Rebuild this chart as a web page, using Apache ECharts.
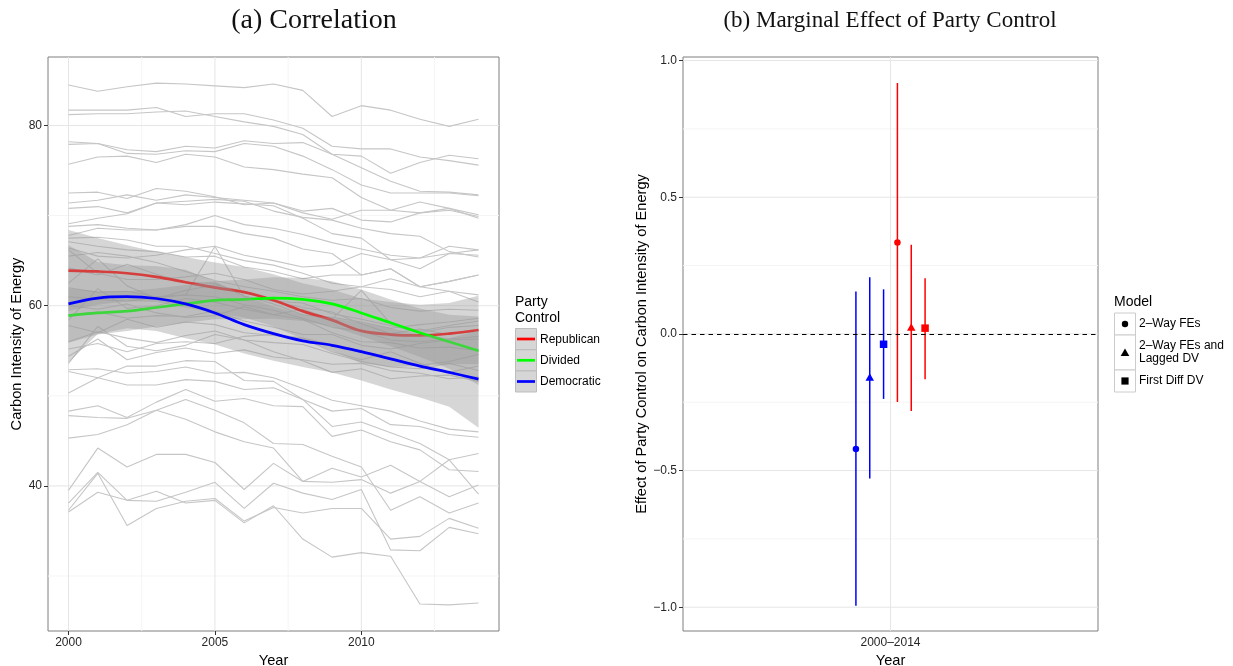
<!DOCTYPE html>
<html>
<head>
<meta charset="utf-8">
<script src="https://cdn.jsdelivr.net/npm/echarts@6/dist/echarts.min.js"></script>
<style>
  html, body { margin: 0; padding: 0; background: #ffffff; }
  #chart { width: 1233px; height: 666px; }
</style>
</head>
<body>
<div id="chart"></div>
<script>
// ---- Panel (a): carbon intensity of energy by state, 2000–2014 ----
const years = [2000, 2001, 2002, 2003, 2004, 2005, 2006, 2007, 2008, 2009, 2010, 2011, 2012, 2013, 2014];

// one row per state
const stateIntensity = [
  [84.5, 83.8, 84.3, 84.7, 84.6, 84.4, 84.2, 84.6, 83.9, 81.0, 82.2, 81.7, 80.7, 79.9, 80.7],
  [81.7, 81.7, 81.7, 82.0, 81.0, 81.3, 81.3, 80.6, 79.7, 77.7, 77.4, 77.4, 76.5, 76.1, 75.6],
  [81.2, 81.3, 81.3, 81.5, 81.6, 81.0, 80.4, 79.9, 79.0, 76.8, 76.6, 74.7, 75.9, 76.7, 76.3],
  [78.2, 78.0, 77.3, 77.1, 77.7, 77.5, 78.3, 78.0, 78.1, 76.8, 75.3, 73.8, 72.7, 72.6, 72.3],
  [77.9, 78.0, 76.9, 76.8, 77.2, 77.1, 78.0, 77.7, 76.6, 75.1, 73.4, 72.5, 72.5, 72.5, 72.2],
  [75.7, 76.5, 76.6, 75.9, 76.8, 76.5, 75.4, 75.1, 74.6, 74.2, 72.0, 70.6, 70.3, 70.8, 70.1],
  [72.5, 72.6, 71.9, 73.0, 72.7, 72.1, 71.2, 71.4, 70.3, 69.6, 70.6, 70.6, 71.5, 70.8, 69.7],
  [71.4, 71.7, 72.3, 71.7, 72.3, 72.0, 71.7, 71.4, 70.5, 70.8, 69.5, 69.3, 70.3, 70.6, 69.9],
  [70.8, 71.0, 70.3, 71.4, 71.6, 71.8, 71.6, 70.5, 69.8, 69.5, 68.6, 68.0, 67.7, 66.0, 65.4],
  [69.1, 69.7, 70.2, 71.4, 71.2, 71.5, 71.3, 71.1, 69.7, 68.0, 67.5, 65.1, 64.1, 65.8, 65.6],
  [68.8, 69.0, 68.6, 68.4, 69.0, 70.0, 69.0, 68.6, 67.9, 67.0, 66.3, 65.6, 65.3, 66.6, 66.2],
  [67.8, 68.6, 68.4, 68.4, 68.8, 68.8, 68.0, 67.5, 66.3, 65.8, 63.4, 64.1, 62.1, 62.7, 63.4],
  [67.5, 67.6, 67.3, 66.6, 66.6, 65.8, 65.0, 64.5, 63.6, 62.5, 62.1, 61.8, 61.0, 61.6, 61.2],
  [67.1, 66.6, 66.2, 66.0, 65.4, 65.5, 64.3, 63.8, 63.0, 63.4, 63.4, 64.1, 62.1, 62.7, 63.4],
  [66.4, 65.5, 65.3, 65.6, 66.2, 66.6, 65.6, 65.0, 64.3, 64.5, 65.8, 65.1, 65.3, 65.8, 66.2],
  [66.2, 63.6, 62.9, 62.9, 63.2, 63.6, 62.9, 61.8, 61.3, 61.6, 62.1, 63.0, 62.1, 61.6, 60.4],
  [65.5, 65.9, 65.5, 64.8, 63.8, 62.8, 62.1, 61.6, 61.0, 60.6, 60.8, 59.8, 59.4, 59.6, 59.5],
  [64.2, 63.4, 64.6, 63.5, 62.6, 62.5, 61.1, 60.2, 59.0, 58.7, 58.2, 57.5, 57.9, 58.2, 58.6],
  [62.5, 65.2, 62.2, 60.8, 61.7, 62.3, 61.6, 60.5, 59.8, 59.3, 58.0, 56.9, 57.4, 56.8, 57.2],
  [62.0, 61.5, 61.6, 61.0, 61.2, 66.6, 61.0, 60.5, 60.3, 59.1, 58.5, 57.8, 57.0, 57.6, 57.8],
  [61.0, 60.7, 60.5, 60.9, 61.2, 61.0, 60.1, 59.5, 58.6, 57.6, 57.2, 56.2, 56.0, 56.3, 56.6],
  [60.0, 59.6, 60.2, 59.2, 58.7, 58.9, 59.9, 59.0, 58.5, 57.0, 56.0, 55.9, 55.3, 55.4, 55.0],
  [59.0, 59.3, 58.6, 58.9, 58.8, 59.4, 58.3, 57.6, 56.8, 56.8, 55.6, 55.2, 55.8, 56.2, 56.3],
  [58.4, 61.9, 59.7, 60.0, 60.8, 60.4, 59.6, 59.0, 59.6, 58.5, 61.7, 58.0, 57.2, 57.8, 58.3],
  [57.8, 57.0, 58.5, 57.6, 58.2, 57.9, 57.0, 56.7, 56.4, 55.7, 55.0, 54.0, 53.4, 53.8, 54.6],
  [56.0, 57.1, 56.4, 55.9, 56.7, 57.2, 56.2, 55.9, 55.7, 54.7, 53.8, 53.2, 53.0, 53.6, 52.8],
  [55.2, 55.8, 54.9, 55.8, 56.0, 55.8, 56.6, 56.8, 56.4, 54.9, 54.0, 54.9, 53.6, 52.6, 53.3],
  [54.4, 56.3, 54.0, 54.8, 55.3, 54.7, 55.1, 54.3, 54.0, 53.5, 53.6, 52.8, 52.5, 51.9, 52.1],
  [53.6, 57.7, 55.5, 55.0, 55.6, 56.8, 56.2, 54.9, 53.9, 52.6, 53.0, 51.9, 52.2, 52.3, 51.6],
  [52.9, 53.0, 52.5, 52.7, 53.2, 52.5, 52.6, 52.0, 50.8, 49.5, 48.9, 48.3, 47.2, 46.3, 46.0],
  [52.7, 52.0, 53.3, 53.3, 53.9, 53.8, 51.7, 51.6, 49.6, 48.3, 48.6, 46.8, 46.6, 45.7, 45.4],
  [50.3, 52.0, 51.2, 51.2, 51.8, 51.6, 50.7, 50.9, 49.6, 46.6, 47.1, 45.9, 44.7, 42.9, 39.1],
  [48.3, 48.9, 47.6, 49.3, 50.7, 49.4, 49.7, 48.9, 48.8, 45.5, 46.2, 44.9, 44.0, 41.8, 41.6],
  [47.8, 47.6, 47.5, 48.4, 49.6, 48.4, 47.0, 44.7, 44.6, 43.3, 42.1, 37.3, 38.8, 37.0, 38.1],
  [45.3, 45.7, 46.8, 48.4, 47.4, 46.0, 44.9, 44.2, 40.5, 41.96, 41.0, 42.3, 40.5, 38.8, 40.1],
  [39.5, 44.2, 42.1, 43.5, 43.5, 42.6, 39.6, 42.5, 40.5, 40.4, 40.7, 39.2, 40.5, 42.9, 43.6],
  [38.1, 41.5, 38.4, 38.3, 39.3, 40.4, 37.5, 40.3, 39.2, 38.5, 39.6, 32.9, 32.8, 35.4, 34.7],
  [37.3, 41.4, 35.6, 37.5, 38.3, 38.6, 36.1, 37.6, 37.0, 37.5, 37.5, 34.1, 34.4, 36.4, 35.3],
  [37.1, 39.3, 38.4, 39.4, 38.1, 38.4, 35.9, 37.8, 34.1, 32.1, 32.6, 32.2, 26.9, 26.8, 27.0]
];

// smoothed fits by party control, with half-width of the confidence band
const partyNames = ['Republican', 'Divided', 'Democratic'];
const partyColors = ['#ff0000', '#00ff00', '#0000ff'];
const repFit = [63.9, 63.8, 63.6, 63.2, 62.6, 62.0, 61.5, 60.6, 59.4, 58.4, 57.2, 56.8, 56.7, 56.9, 57.3];
const repHalfWidth = [4.5, 3.7, 3.1, 2.8, 2.8, 2.8, 2.8, 2.9, 3.1, 3.4, 3.6, 3.6, 3.4, 3.4, 3.8];
const divFit = [58.9, 59.2, 59.4, 59.8, 60.2, 60.6, 60.7, 60.85, 60.7, 60.2, 59.2, 58.1, 57.0, 56.0, 55.0];
const divHalfWidth = [3.0, 2.4, 2.2, 2.1, 2.1, 2.1, 2.2, 2.3, 2.4, 2.5, 2.6, 2.6, 2.7, 3.0, 3.8];
const demFit = [60.2, 60.85, 61.0, 60.8, 60.2, 59.2, 57.9, 56.9, 56.1, 55.6, 54.9, 54.1, 53.3, 52.6, 51.85];
const demHalfWidth = [6.5, 4.0, 3.5, 3.6, 3.8, 3.5, 3.2, 3.0, 2.9, 3.0, 3.2, 3.4, 3.5, 3.8, 5.4];

const leftYTicks = [40, 60, 80];
const leftYMinor = [30, 50, 70];
const leftXTicks = [2000, 2005, 2010];
const leftXMinor = [2002.5, 2007.5, 2012.5];

// ---- Panel (b): marginal effect of party control ----
const periodLabel = '2000–2014';
const models = ['2–Way FEs', '2–Way FEs and\nLagged DV', 'First Diff DV'];
const modelSymbols = ['circle', 'triangle', 'rect'];
const demEstimate = [-0.421, -0.158, -0.038];
const demLower = [-0.995, -0.529, -0.238];
const demUpper = [0.155, 0.207, 0.163];
const repEstimate = [0.334, 0.025, 0.021];
const repLower = [-0.249, -0.282, -0.166];
const repUpper = [0.918, 0.326, 0.204];

const rightYTicks = [-1, -0.5, 0, 0.5, 1];
const rightYMinor = [-0.75, -0.25, 0.25, 0.75];

// ---- styling ----
const SANS = '"Liberation Sans", Arial, sans-serif';
const SERIF = '"Liberation Serif", "DejaVu Serif", serif';
const TXT = '#262626';
const MAJOR = '#e6e6e6';
const MINOR = '#f5f5f5';
const BAND = 'rgba(153,153,153,0.4)';

const LEFT = { x: 48, y: 57, w: 451, h: 574, xMin: 1999.3, xMax: 2014.7, yMin: 23.9, yMax: 87.6 };
const RIGHT = { x: 683, y: 57, w: 415, h: 574, xMin: 0.4, xMax: 1.6, yMin: -1.087, yMax: 1.013 };

// full-width / full-height rules drawn through the axis scales
function ruleSeries(gridIdx, orient, values, color, ref) {
  return {
    type: 'custom', xAxisIndex: gridIdx, yAxisIndex: gridIdx, z: 1, silent: true,
    data: values.map(v => orient === 'v' ? [v, ref] : [ref, v]),
    renderItem: function (params, api) {
      const cs = params.coordSys;
      const p = api.coord([api.value(0), api.value(1)]);
      if (orient === 'v') {
        return { type: 'line', shape: { x1: p[0], y1: cs.y, x2: p[0], y2: cs.y + cs.height },
                 style: { stroke: color, lineWidth: 1 } };
      }
      return { type: 'line', shape: { x1: cs.x, y1: p[1], x2: cs.x + cs.width, y2: p[1] },
               style: { stroke: color, lineWidth: 1 } };
    }
  };
}

function valueAxis(gridIdx, lim, ticks, fmt, extra) {
  return Object.assign({
    type: 'value', gridIndex: gridIdx, min: lim[0], max: lim[1],
    splitLine: { show: false }, axisLine: { show: false },
    axisTick: { show: true, customValues: ticks, length: 4, lineStyle: { color: '#333', width: 1 } },
    axisLabel: { customValues: ticks, formatter: fmt, color: TXT, fontSize: 12, fontFamily: SANS, margin: 6 }
  }, extra);
}

const series = [];

// grid rules, panel (a)
series.push(ruleSeries(0, 'v', leftXMinor, MINOR, 50));
series.push(ruleSeries(0, 'h', leftYMinor, MINOR, 2005));
series.push(ruleSeries(0, 'v', leftXTicks, MAJOR, 50));
series.push(ruleSeries(0, 'h', leftYTicks, MAJOR, 2005));

// state trajectories
stateIntensity.forEach(row => {
  series.push({
    type: 'line', xAxisIndex: 0, yAxisIndex: 0, silent: true, symbol: 'none', z: 2,
    lineStyle: { color: '#c6c6c6', width: 1.1 },
    data: years.map((yr, i) => [yr, row[i]])
  });
});

// confidence bands and fitted curves, one party group after another
const fits = [repFit, divFit, demFit];
const halves = [repHalfWidth, divHalfWidth, demHalfWidth];
fits.forEach((fit, g) => {
  const half = halves[g];
  series.push({
    type: 'custom', xAxisIndex: 0, yAxisIndex: 0, silent: true, z: 3 + 2 * g,
    data: [[years[0], fit[0]]],
    renderItem: function (params, api) {
      const upper = years.map((yr, i) => api.coord([yr, fit[i] + half[i]]));
      const lower = years.map((yr, i) => api.coord([yr, fit[i] - half[i]])).reverse();
      return { type: 'polygon', shape: { points: upper.concat(lower) }, style: { fill: BAND } };
    }
  });
  series.push({
    type: 'line', xAxisIndex: 0, yAxisIndex: 0, silent: true, symbol: 'none', smooth: 0.35,
    z: 4 + 2 * g,
    name: partyNames[g], lineStyle: { color: partyColors[g], width: 2.7 },
    data: years.map((yr, i) => [yr, fit[i]])
  });
});

// grid rules, panel (b)
series.push(ruleSeries(1, 'h', rightYMinor, MINOR, 1));
series.push(ruleSeries(1, 'h', rightYTicks, MAJOR, 1));
series.push(ruleSeries(1, 'v', [1], MAJOR, 0));

// dodged positions around the single period
const dodgeStep = 0.04;
const dodge = k => 1 + (k - 2.5) * dodgeStep;
const groups = [
  { color: '#0000ff', est: demEstimate, lo: demLower, hi: demUpper, base: 0 },
  { color: '#ff0000', est: repEstimate, lo: repLower, hi: repUpper, base: 3 }
];
groups.forEach((gr, gi) => {
  series.push({
    type: 'custom', xAxisIndex: 1, yAxisIndex: 1, silent: true, z: 3,
    data: gr.est.map((e, m) => [dodge(gr.base + m), gr.lo[m], gr.hi[m]]),
    renderItem: function (params, api) {
      const a = api.coord([api.value(0), api.value(1)]);
      const b = api.coord([api.value(0), api.value(2)]);
      return { type: 'line', shape: { x1: a[0], y1: a[1], x2: b[0], y2: b[1] },
               style: { stroke: gr.color, lineWidth: 1.5 } };
    },
    markLine: gi === 0 ? {
      silent: true, symbol: 'none', label: { show: false },
      lineStyle: { color: '#000', width: 1.1, type: [4.5, 4] },
      data: [{ yAxis: 0 }]
    } : undefined
  });
  series.push({
    type: 'scatter', xAxisIndex: 1, yAxisIndex: 1, silent: true, z: 4,
    itemStyle: { color: gr.color, opacity: 1 },
    data: gr.est.map((e, m) => ({
      value: [dodge(gr.base + m), e],
      symbol: modelSymbols[m],
      symbolSize: modelSymbols[m] === 'circle' ? 6.5 : (modelSymbols[m] === 'triangle' ? [8.5, 7.5] : 7.5)
    }))
  });
});

// legends and titles
const graphics = [
  { type: 'text', x: 314, y: 21, style: { text: '(a) Correlation', font: '28px ' + SERIF, fill: '#111', align: 'center', verticalAlign: 'middle', textAlign: 'center', textVerticalAlign: 'middle' } },
  { type: 'text', x: 890, y: 21, style: { text: '(b) Marginal Effect of Party Control', font: '23px ' + SERIF, fill: '#111', align: 'center', verticalAlign: 'middle', textAlign: 'center', textVerticalAlign: 'middle' } },
  { type: 'text', x: 515, y: 302, style: { text: 'Party', font: '14px ' + SANS, fill: '#000', verticalAlign: 'middle', textVerticalAlign: 'middle' } },
  { type: 'text', x: 515, y: 318, style: { text: 'Control', font: '14px ' + SANS, fill: '#000', verticalAlign: 'middle', textVerticalAlign: 'middle' } },
  { type: 'text', x: 1114, y: 302, style: { text: 'Model', font: '14px ' + SANS, fill: '#000', verticalAlign: 'middle', textVerticalAlign: 'middle' } }
];
const keyTops = [328.5, 349.8, 371];
partyNames.forEach((nm, g) => {
  graphics.push({ type: 'rect', shape: { x: 515.5, y: keyTops[g], width: 21, height: 21 },
    style: { fill: '#d6d6d6', stroke: '#bdbdbd', lineWidth: 1 } });
  graphics.push({ type: 'line', shape: { x1: 517, y1: keyTops[g] + 10.5, x2: 535, y2: keyTops[g] + 10.5 },
    style: { stroke: partyColors[g], lineWidth: 2.7 } });
  graphics.push({ type: 'text', x: 540, y: keyTops[g] + 11, style: { text: nm, font: '12px ' + SANS, fill: '#000', verticalAlign: 'middle', textVerticalAlign: 'middle' } });
});
const modelKeyTops = [313, 335, 370];
const modelKeyHeights = [22, 35, 22];
models.forEach((nm, m) => {
  const top = modelKeyTops[m], h = modelKeyHeights[m], cx = 1125, cy = top + h / 2;
  graphics.push({ type: 'rect', shape: { x: 1114.5, y: top, width: 21, height: h },
    style: { fill: '#ffffff', stroke: '#cccccc', lineWidth: 1 } });
  if (modelSymbols[m] === 'circle') {
    graphics.push({ type: 'circle', shape: { cx: cx, cy: cy, r: 3.2 }, style: { fill: '#000' } });
  } else if (modelSymbols[m] === 'triangle') {
    graphics.push({ type: 'polygon', shape: { points: [[cx, cy - 4], [cx + 4.3, cy + 3.5], [cx - 4.3, cy + 3.5]] }, style: { fill: '#000' } });
  } else {
    graphics.push({ type: 'rect', shape: { x: cx - 3.6, y: cy - 3.6, width: 7.2, height: 7.2 }, style: { fill: '#000' } });
  }
  graphics.push({ type: 'text', x: 1139, y: cy, style: { text: nm, font: '12px ' + SANS, fill: '#000', lineHeight: 13, verticalAlign: 'middle', textVerticalAlign: 'middle' } });
});

const gridBase = { show: true, borderColor: '#7f7f7f', borderWidth: 1, backgroundColor: 'transparent', containLabel: false, outerBoundsMode: 'none' };

const option = {
  animation: false,
  backgroundColor: '#ffffff',
  grid: [
    Object.assign({ left: LEFT.x, top: LEFT.y, width: LEFT.w, height: LEFT.h }, gridBase),
    Object.assign({ left: RIGHT.x, top: RIGHT.y, width: RIGHT.w, height: RIGHT.h }, gridBase)
  ],
  xAxis: [
    valueAxis(0, [LEFT.xMin, LEFT.xMax], leftXTicks, v => String(v), {
      name: 'Year', nameLocation: 'middle', nameGap: 20,
      nameTextStyle: { color: '#000', fontSize: 14.6, fontFamily: SANS }
    }),
    valueAxis(1, [RIGHT.xMin, RIGHT.xMax], [1], () => periodLabel, {
      name: 'Year', nameLocation: 'middle', nameGap: 20,
      nameTextStyle: { color: '#000', fontSize: 14.6, fontFamily: SANS }
    })
  ],
  yAxis: [
    valueAxis(0, [LEFT.yMin, LEFT.yMax], leftYTicks, v => String(v), {
      name: 'Carbon Intensity of Energy', nameLocation: 'middle', nameGap: 21, nameRotate: 90,
      nameTextStyle: { color: '#000', fontSize: 14.6, fontFamily: SANS }
    }),
    valueAxis(1, [RIGHT.yMin, RIGHT.yMax], rightYTicks, v => v.toFixed(1).replace('-', '\u2212'), {
      name: 'Effect of Party Control on Carbon Intensity of Energy', nameLocation: 'middle', nameGap: 30, nameRotate: 90,
      nameTextStyle: { color: '#000', fontSize: 14.6, fontFamily: SANS }
    })
  ],
  graphic: graphics,
  series: series
};

const chart = echarts.init(document.getElementById('chart'));
chart.setOption(option);
</script>
</body>
</html>
